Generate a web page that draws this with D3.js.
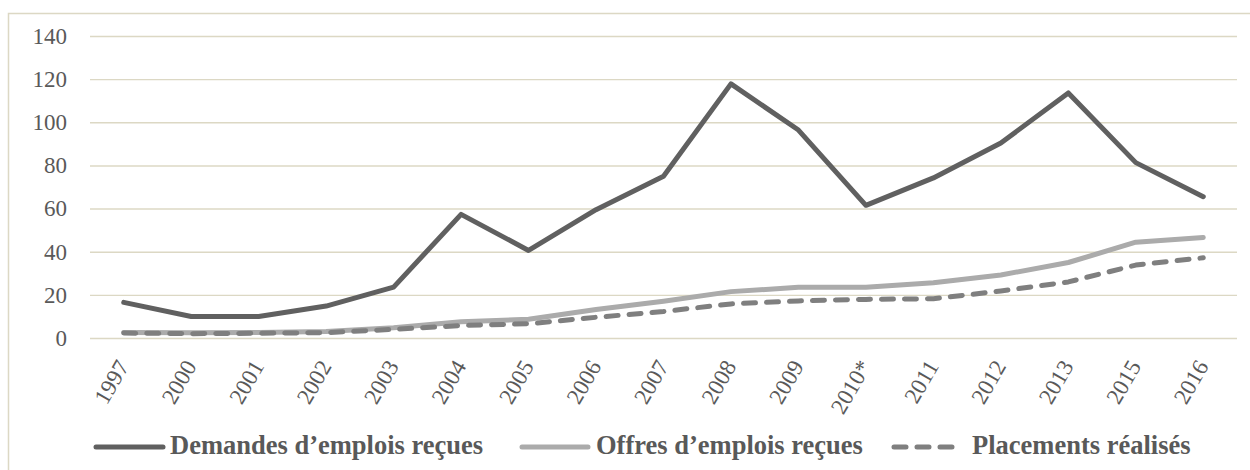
<!DOCTYPE html>
<html>
<head>
<meta charset="utf-8">
<script src="https://cdn.jsdelivr.net/npm/d3@7"></script>
<style>
  html, body { margin: 0; padding: 0; background: #fff; }
  svg { display: block; }
</style>
</head>
<body>
<svg id="chart" width="1250" height="470"></svg>
<script>
const categories = ["1997","2000","2001","2002","2003","2004","2005","2006","2007","2008","2009","2010*","2011","2012","2013","2015","2016"];
const demandes   = [16.5, 10.0, 10.0, 14.8, 23.6, 57.3, 40.6, 59.5, 75.0, 117.8, 96.4, 61.5, 74.2, 90.4, 113.6, 81.3, 65.5];
const offres     = [2.6, 2.4, 2.5, 3.0, 4.8, 7.5, 8.7, 13.2, 17.0, 21.5, 23.5, 23.5, 25.6, 29.2, 35.0, 44.4, 46.6];
const placements = [2.3, 2.0, 2.2, 2.5, 4.0, 5.8, 6.6, 9.6, 12.3, 15.8, 17.2, 17.9, 18.2, 21.8, 26.0, 33.8, 37.2];
const yTicks = [0, 20, 40, 60, 80, 100, 120, 140];
const seriesNames = ["Demandes d’emplois reçues", "Offres d’emplois reçues", "Placements réalisés"];

(function () {
const svg = d3.select("#chart");
const W = 1250, H = 470;
const pLeft = 90, pRight = 1237, pTop = 36, pBottom = 338;
const gridColor = "#dcd8c4";
const textColor = "#595959";
const serif = "'Liberation Serif', 'Times New Roman', serif";

svg.append("rect").attr("width", W).attr("height", H).attr("fill", "#fff");
// outer frame (only top and left visible)
svg.append("rect").attr("x", 8.5).attr("y", 13.5).attr("width", 1300).attr("height", 600)
  .attr("fill", "none").attr("stroke", gridColor).attr("stroke-width", 1.5);

const x = d3.scalePoint().domain(categories).range([pLeft, pRight]).padding(0.5);
const y = d3.scaleLinear().domain([0, 140]).range([pBottom, pTop]);

// gridlines
const grid = svg.append("g").attr("transform", `translate(${pLeft},0)`)
  .call(d3.axisLeft(y).tickValues(yTicks).tickSize(-(pRight - pLeft)).tickFormat(""));
grid.select(".domain").remove();
grid.selectAll(".tick line").attr("stroke", gridColor).attr("stroke-width", 1.4);

// y labels
const yAx = svg.append("g").attr("transform", `translate(${pLeft},0)`)
  .call(d3.axisLeft(y).tickValues(yTicks).tickSize(0).tickPadding(23));
yAx.select(".domain").remove();
yAx.selectAll("text").style("font-family", serif).style("font-size", "23px").attr("fill", textColor);

// x labels
const xAx = svg.append("g").attr("transform", `translate(0,${pBottom})`)
  .call(d3.axisBottom(x).tickSize(0).tickFormat(""));
xAx.select(".domain").remove();
svg.append("g").selectAll("text").data(categories).join("text")
  .attr("transform", d => `translate(${x(d) + 6},${366}) rotate(-60)`)
  .attr("text-anchor", "end")
  .style("font-family", serif).style("font-size", "23px").attr("fill", textColor)
  .text(d => d);

const line = d3.line().x((d, i) => x(categories[i])).y(d => y(d));

const styles = [
  { data: demandes, color: "#606060", dash: null },
  { data: offres, color: "#ababab", dash: null },
  { data: placements, color: "#7f7f7f", dash: "12,11" }
];

// draw order: offres, placements, demandes
[1, 2, 0].forEach(k => {
  const s = styles[k];
  svg.append("path").datum(s.data)
    .attr("d", line)
    .attr("fill", "none")
    .attr("stroke", s.color)
    .attr("stroke-width", 5)
    .attr("stroke-linejoin", "round")
    .attr("stroke-linecap", "round")
    .attr("stroke-dasharray", s.dash);
});

// legend
const legendY = 447;
const legendItems = [
  { x1: 96, x2: 163, tx: 170 },
  { x1: 522, x2: 588, tx: 596 },
  { x1: 894, x2: 955, tx: 972 }
];
legendItems.forEach((it, k) => {
  const s = styles[k];
  svg.append("line").attr("x1", it.x1).attr("x2", it.x2).attr("y1", legendY).attr("y2", legendY)
    .attr("stroke", s.color).attr("stroke-width", 5).attr("stroke-linecap", "round")
    .attr("stroke-dasharray", s.dash);
  svg.append("text").attr("x", it.tx).attr("y", legendY + 7)
    .style("font-family", serif).style("font-size", "26.5px").style("font-weight", "bold")
    .attr("fill", textColor).text(seriesNames[k]);
});
})();
</script>
</body>
</html>
